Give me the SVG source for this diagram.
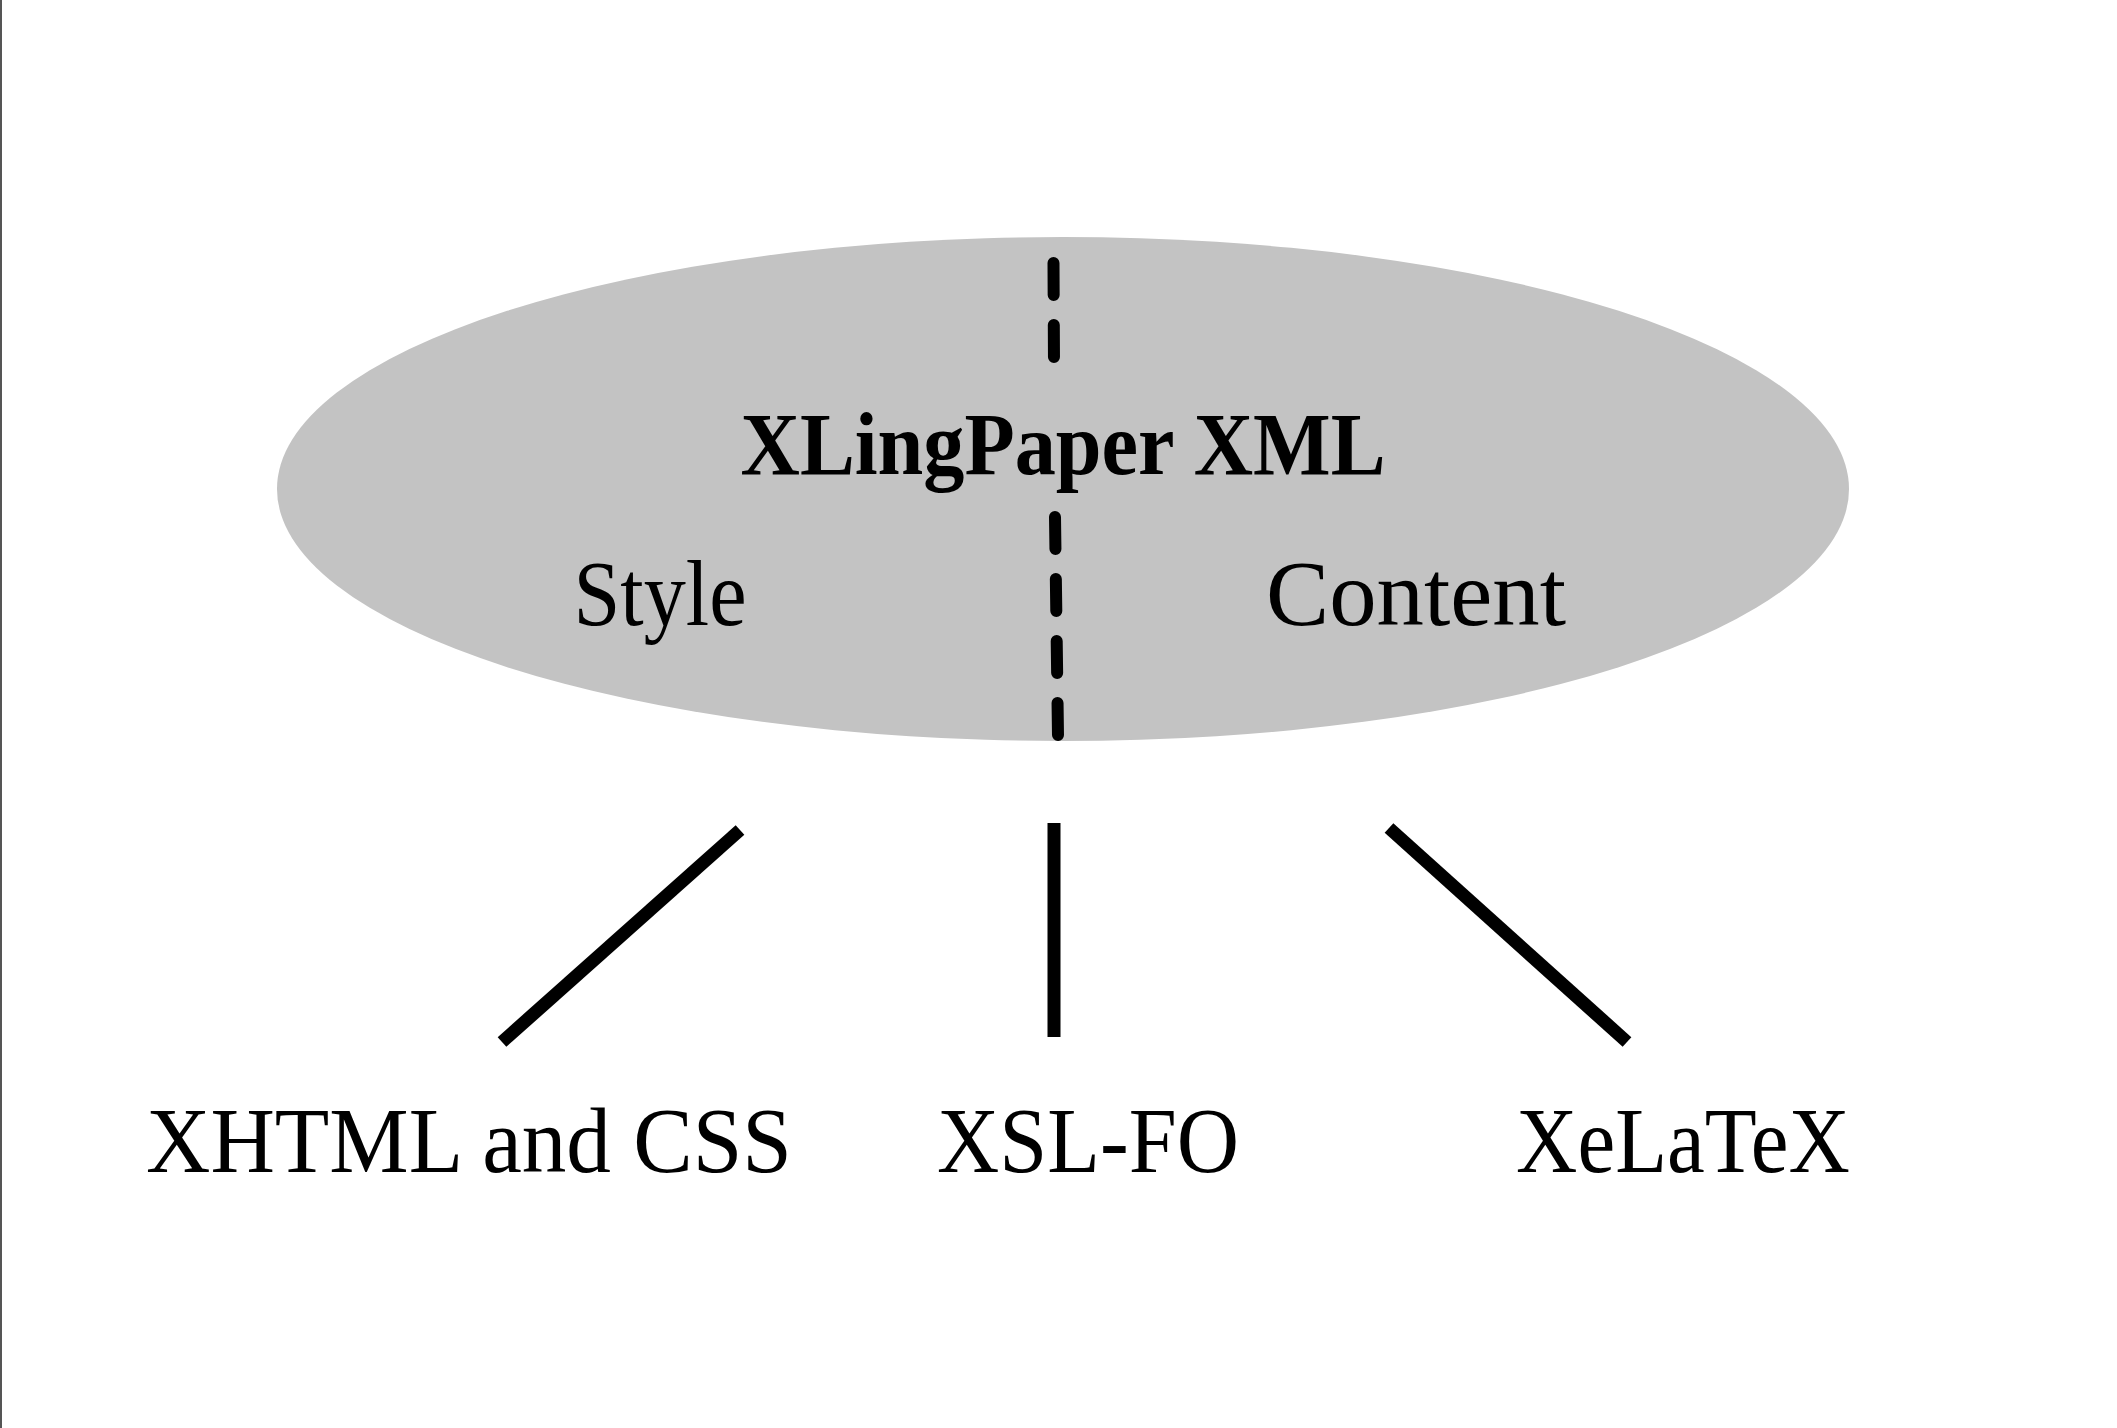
<svg xmlns="http://www.w3.org/2000/svg" width="2117" height="1428" viewBox="0 0 2117 1428">
<style>
.lbl{font-family:"Liberation Serif","Times New Roman",serif;font-size:94px;fill:#000;text-anchor:middle}
.title{font-family:"Liberation Serif","Times New Roman",serif;font-size:88px;font-weight:bold;fill:#000;text-anchor:middle}
.edge{stroke:#000;stroke-width:13;fill:none}
.divider{stroke:#000;stroke-width:12;stroke-linecap:round;stroke-dasharray:32 30;fill:none}
</style>
<rect x="0" y="0" width="2117" height="1428" fill="#fff"/>
<line x1="1" y1="0" x2="1" y2="1428" stroke="#555" stroke-width="2"/>
<g id="root">
<ellipse cx="1063" cy="489" rx="786" ry="252" fill="#c3c3c3"/>
<path class="divider" d="M1053.5 263 L1054 365"/>
<path class="divider" d="M1055 517 L1058 736"/>
<text class="title" x="1063" y="474" textLength="645" lengthAdjust="spacingAndGlyphs">XLingPaper XML</text>
<text class="lbl" x="660" y="625" textLength="173" lengthAdjust="spacingAndGlyphs">Style</text>
<text class="lbl" x="1416" y="625" textLength="300" lengthAdjust="spacingAndGlyphs">Content</text>
</g>
<g id="connectors">
<line class="edge" x1="740" y1="830" x2="502" y2="1042"/>
<line class="edge" x1="1054" y1="823" x2="1054" y2="1037"/>
<line class="edge" x1="1389" y1="828" x2="1627" y2="1042"/>
</g>
<g id="xhtml"><text class="lbl" x="469" y="1172" textLength="646" lengthAdjust="spacingAndGlyphs">XHTML and CSS</text></g>
<g id="xslfo"><text class="lbl" x="1088" y="1172" textLength="302" lengthAdjust="spacingAndGlyphs">XSL-FO</text></g>
<g id="xelatex"><text class="lbl" x="1683" y="1172" textLength="334" lengthAdjust="spacingAndGlyphs">XeLaTeX</text></g>
</svg>
